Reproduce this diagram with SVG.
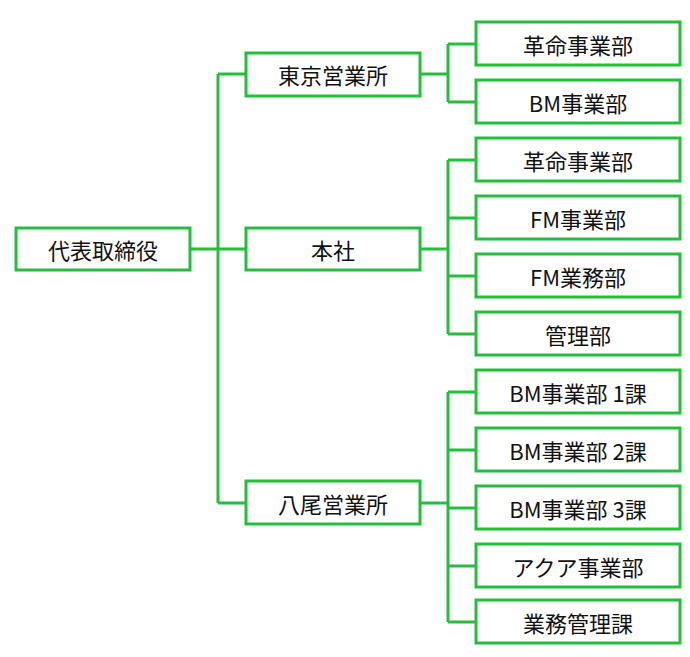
<svg xmlns="http://www.w3.org/2000/svg" width="690" height="657" viewBox="0 0 690 657">
<style>
rect{fill:#fff;stroke:#22c03a;stroke-width:3}
#connectors path{fill:none;stroke:#22c03a;stroke-width:3}
text{font-family:"Noto Sans CJK JP","Noto Sans",sans-serif;font-size:22px;fill:#111;text-anchor:middle;dominant-baseline:central}
</style>
<rect x="0" y="0" width="690" height="657" style="stroke:none"/>
<g id="connectors">
<path d="M190 249H218M218 74V503M218 74H246M218 249H246M218 503H246"/>
<path d="M420 74H448M448 44V102M448 44H476M448 102H476"/>
<path d="M420 249H448M448 160V334M448 160H476M448 218H476M448 276H476M448 334H476"/>
<path d="M420 503H448M448 392V622M448 392H476M448 450H476M448 508H476M448 566H476M448 622H476"/>
</g>
<g id="n0"><rect x="16" y="228" width="174" height="42"/><text x="103" y="249">代表取締役</text></g>
<g id="n1"><rect x="246" y="53" width="174" height="43"/><text x="333" y="74">東京営業所</text></g>
<g id="n2"><rect x="246" y="228" width="174" height="42"/><text x="333" y="249">本社</text></g>
<g id="n3"><rect x="246" y="481" width="174" height="43"/><text x="333" y="503">八尾営業所</text></g>
<g id="n4"><rect x="476" y="22" width="204" height="43"/><text x="578" y="44">革命事業部</text></g>
<g id="n5"><rect x="476" y="80" width="204" height="43"/><text x="578" y="102">BM事業部</text></g>
<g id="n6"><rect x="476" y="138" width="204" height="43"/><text x="578" y="160">革命事業部</text></g>
<g id="n7"><rect x="476" y="196" width="204" height="43"/><text x="578" y="218">FM事業部</text></g>
<g id="n8"><rect x="476" y="254" width="204" height="43"/><text x="578" y="276">FM業務部</text></g>
<g id="n9"><rect x="476" y="312" width="204" height="43"/><text x="578" y="334">管理部</text></g>
<g id="n10"><rect x="476" y="370" width="204" height="43"/><text x="578" y="392">BM事業部 1課</text></g>
<g id="n11"><rect x="476" y="428" width="204" height="43"/><text x="578" y="450">BM事業部 2課</text></g>
<g id="n12"><rect x="476" y="486" width="204" height="43"/><text x="578" y="508">BM事業部 3課</text></g>
<g id="n13"><rect x="476" y="544" width="204" height="43"/><text x="578" y="566">アクア事業部</text></g>
<g id="n14"><rect x="476" y="600" width="204" height="43"/><text x="578" y="622">業務管理課</text></g>
</svg>
